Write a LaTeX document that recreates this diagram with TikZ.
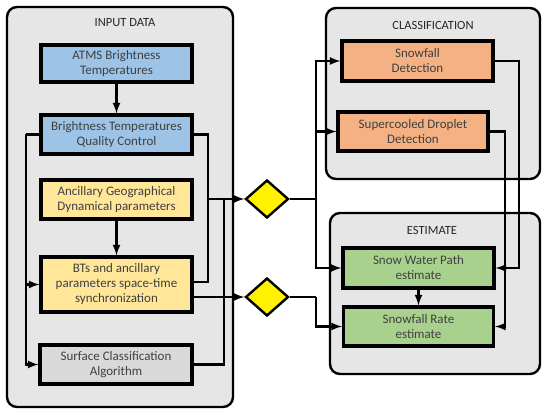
\documentclass[tikz,border=0pt]{standalone}
\usepackage{fontspec}
\setmainfont{Carlito}
\usetikzlibrary{arrows,shapes.geometric,backgrounds}
\definecolor{panelgray}{HTML}{E7E6E6}
\definecolor{inblue}{HTML}{9DC3E6}
\definecolor{inyellow}{HTML}{FFE699}
\definecolor{ingray}{HTML}{D9D9D9}
\definecolor{clorange}{HTML}{F4B183}
\definecolor{esgreen}{HTML}{A9D18E}
\definecolor{txtgray}{HTML}{404040}

\begin{document}
\begin{tikzpicture}[x=1pt,y=-1pt,>=latex,
    panel/.style={draw,line width=2.4pt,rounded corners=10pt,fill=panelgray},
    ptitle/.style={font=\fontsize{12.5}{14}\selectfont,text=black!85},
    box/.style={draw,line width=3.2pt,minimum width=151pt,minimum height=39pt,
      inner sep=1pt,align=center,text=txtgray,font=\fontsize{13}{15}\selectfont},
    gate/.style={draw,diamond,fill=yellow,line width=2.4pt,inner sep=0pt,
      minimum width=43pt,minimum height=38pt},
    every path/.append style={line width=2.6pt}]
  \useasboundingbox (0,0) rectangle (550,417);
  % panels
  \draw[panel] (7,7) rectangle (233,407);
  \draw[panel] (326,8) rectangle (540,179);
  \draw[panel] (330,213) rectangle (540,374);
  \node[ptitle] (tin) at (125,23) {INPUT DATA};
  \node[ptitle] (tcl) at (433,25) {CLASSIFICATION};
  \node[ptitle] (tes) at (432,230) {ESTIMATE};
  % input data
  \node[box,fill=inblue,minimum height=37pt] (atms) at (116.5,63.5) {ATMS Brightness\\Temperatures};
  \node[box,fill=inblue] (qc) at (116.5,134.5) {Brightness Temperatures\\Quality Control};
  \node[box,fill=inyellow] (anc) at (116.5,199.5) {Ancillary Geographical\\Dynamical parameters};
  \node[box,fill=inyellow,minimum height=55pt] (sync) at (116.5,284.5) {BTs and ancillary\\parameters space-time\\synchronization};
  \node[box,fill=ingray,minimum width=152pt] (surf) at (116,364.5) {Surface Classification\\Algorithm};
  % classification and estimate
  \node[box,fill=clorange,minimum height=40pt] (snow) at (417.5,61) {Snowfall\\Detection};
  \node[box,fill=clorange,minimum width=150pt] (scd) at (413,131.5) {Supercooled Droplet\\Detection};
  \node[box,fill=esgreen,minimum height=40pt] (swp) at (418.5,268) {Snow Water Path\\estimate};
  \node[box,fill=esgreen,minimum width=150pt] (sfr) at (418.5,326.5) {Snowfall Rate\\estimate};
  % gates
  \node[gate] (d1) at (267,199) {};
  \node[gate] (d2) at (267,297) {};
  % junctions
  \coordinate (lq) at (26,134.5);
  \coordinate (rq) at (208,134.5);
  \coordinate (rs) at (224,199);
  \coordinate (j1) at (316,199);
  \coordinate (j2) at (316,297);
  \coordinate (j3) at (519,61);
  \coordinate (j4) at (505,131.5);
  % connectors
  \draw[->] (atms) -- (qc);
  \draw[->] (anc) -- (sync);
  \draw[->] (swp) -- (sfr);
  \draw (qc.west) -- (lq);
  \draw[->] (lq) |- (surf.west);
  \draw[->] (lq |- sync.west) -- (sync.west);
  \draw (qc.east) -- (rq) |- ([yshift=2.5pt]sync.east);
  \draw[->] (rq |- d1.west) -- (d1.west);
  \draw (surf.east) -| (rs);
  \draw[->] (d2.west -| sync.east) -- (d2.west);
  \draw (d1.east) -- (j1);
  \draw[->] (j1) |- (snow.west);
  \draw[->] (j1) |- (scd.west);
  \draw[->] (j1) |- (swp.west);
  \draw (d2.east) -- (j2);
  \draw[->] (j2) |- (sfr.west);
  \draw[->] (snow.east) -- (j3) |- (swp.east);
  \draw[->] (scd.east) -- (j4) |- (sfr.east);
\end{tikzpicture}
\end{document}
